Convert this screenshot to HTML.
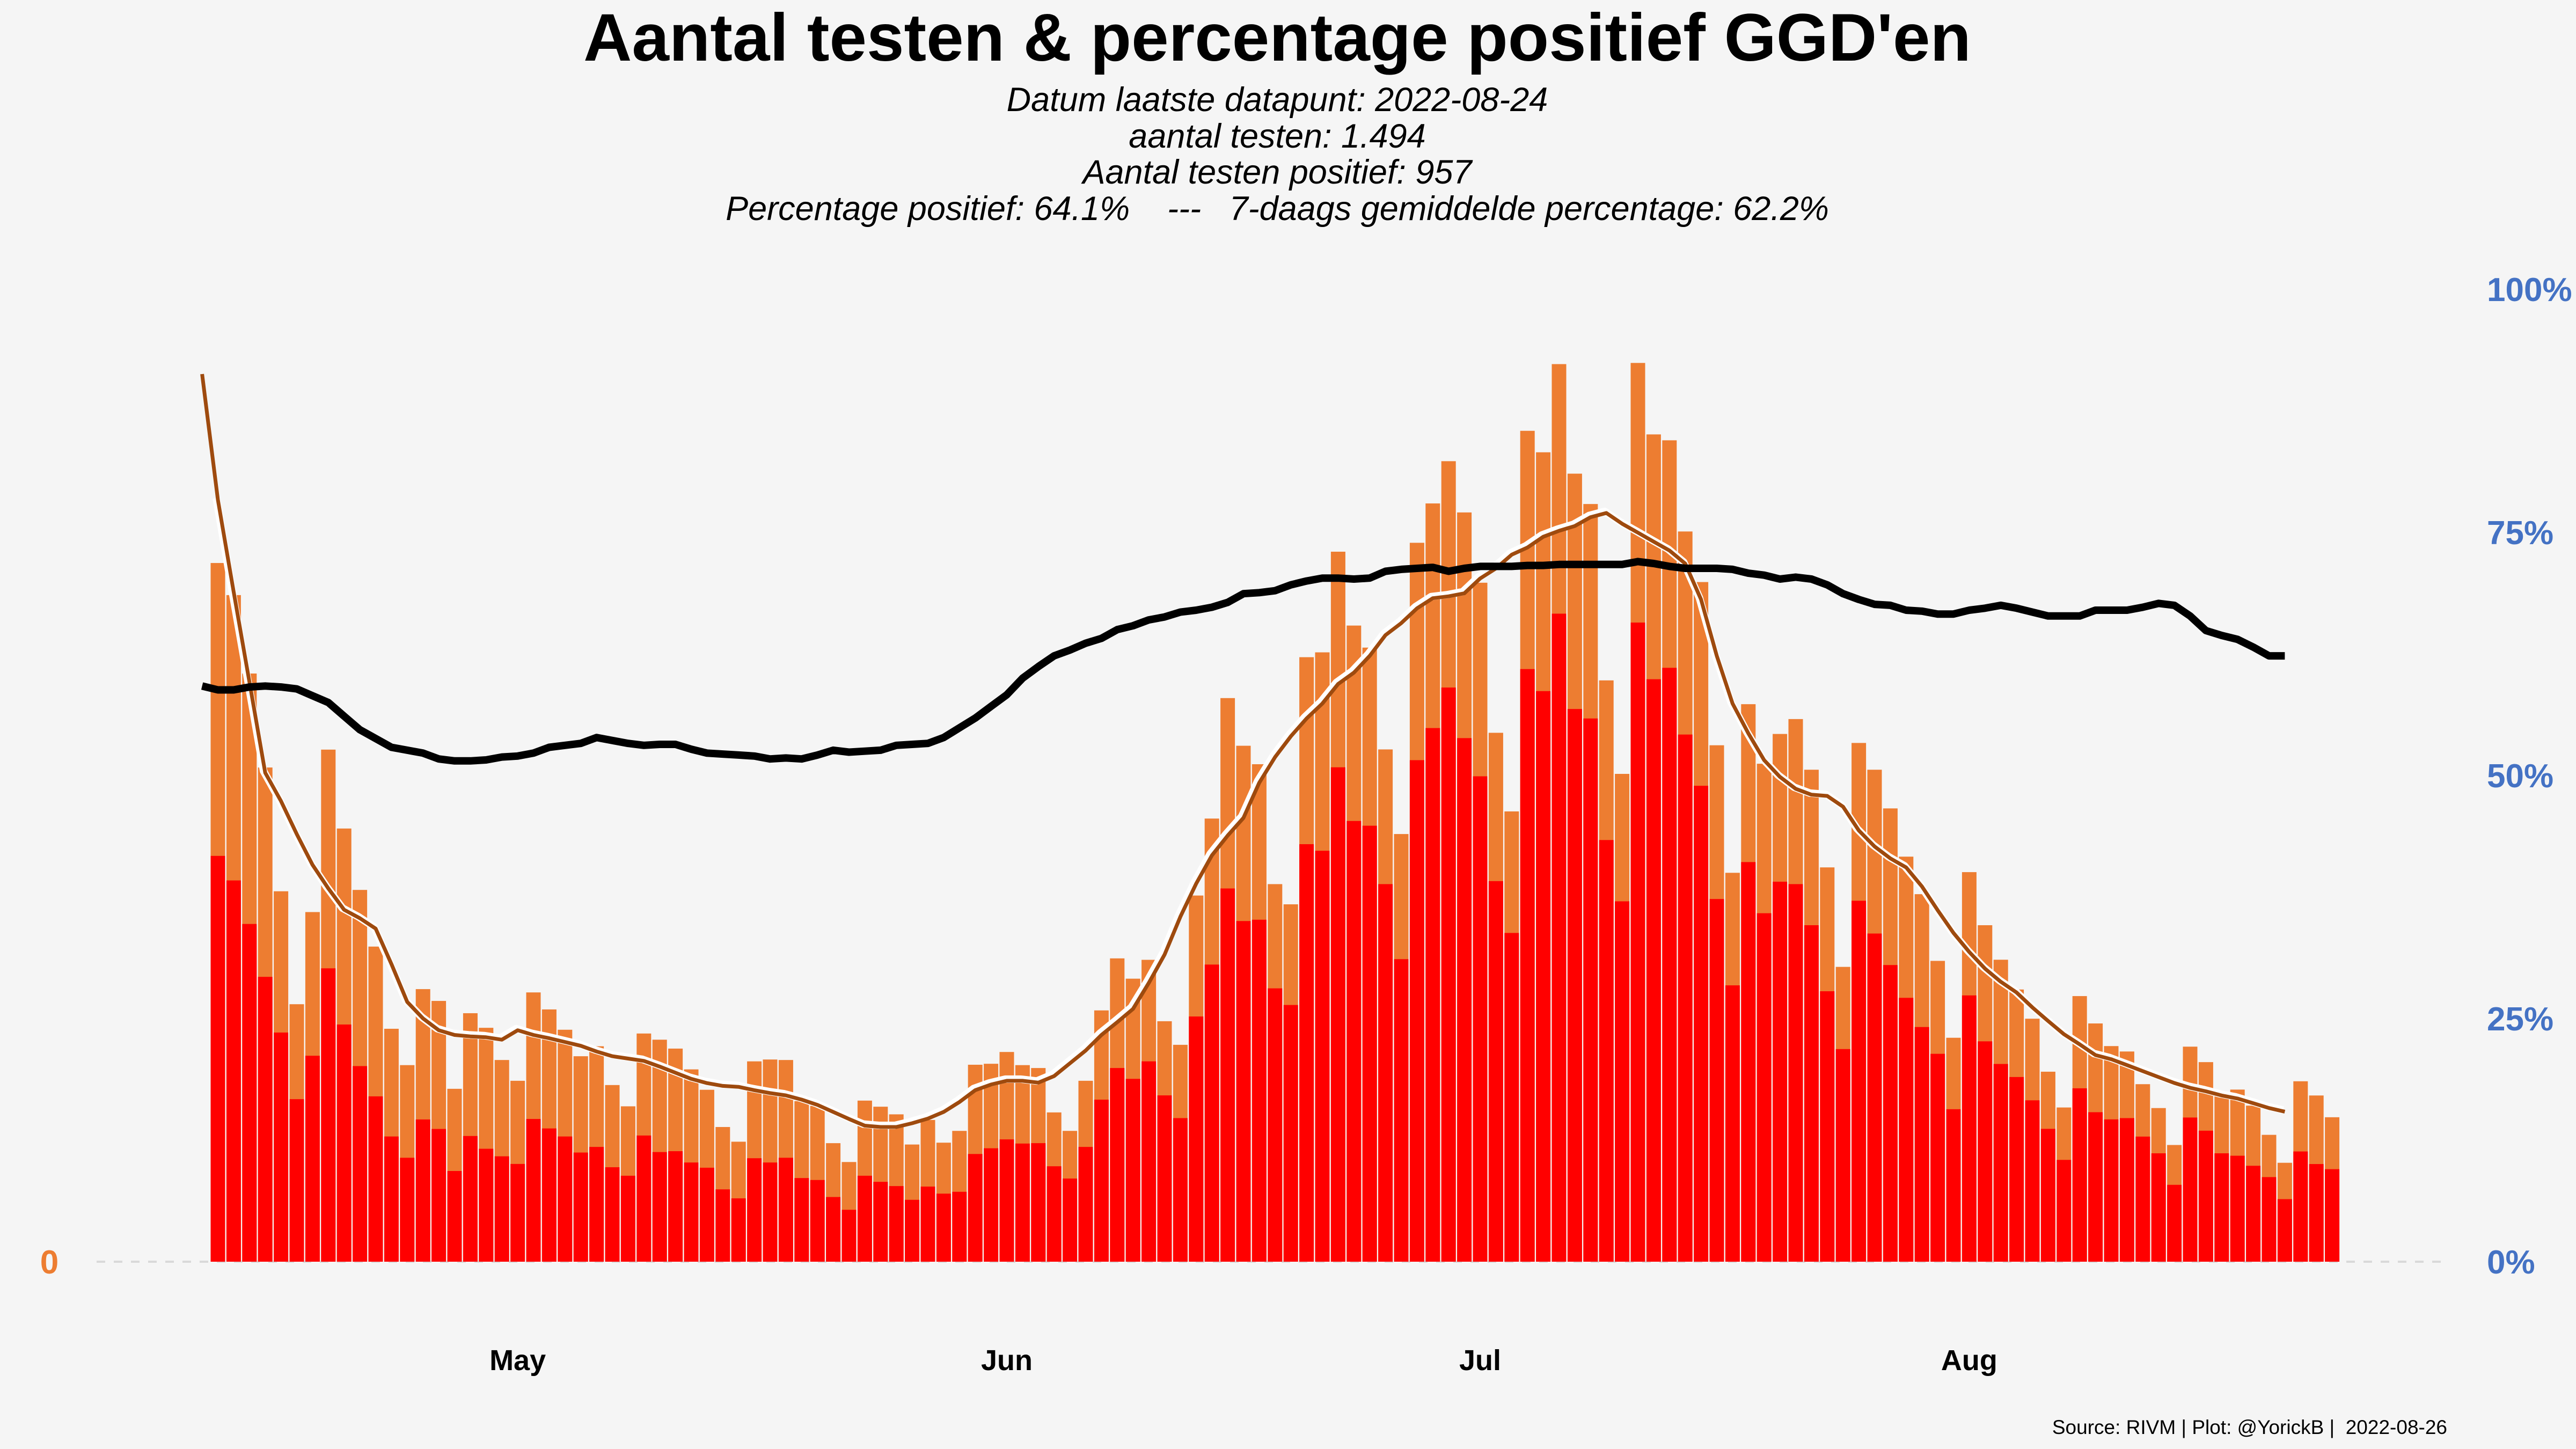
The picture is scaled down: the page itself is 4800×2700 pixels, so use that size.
<!DOCTYPE html>
<html><head><meta charset="utf-8">
<style>
html,body{margin:0;padding:0;background:#f5f5f5;}
svg{display:block;}
text{font-family:"Liberation Sans",Arial,sans-serif;}
</style></head>
<body>
<svg id="chart" width="4800" height="2700" viewBox="0 0 4800 2700" xmlns="http://www.w3.org/2000/svg">
<rect x="0" y="0" width="4800" height="2700" fill="#f5f5f5"/>
<text x="2380" y="113" text-anchor="middle" font-size="125" font-weight="bold" fill="#000">Aantal testen &amp; percentage positief GGD'en</text>
<g font-style="italic" font-size="63" text-anchor="middle" fill="#000">
<text x="2380" y="207">Datum laatste datapunt: 2022-08-24</text>
<text x="2380" y="275">aantal testen: 1.494</text>
<text x="2380" y="342">Aantal testen positief: 957</text>
<text x="2380" y="410" xml:space="preserve">Percentage positief: 64.1%    ---   7-daags gemiddelde percentage: 62.2%</text>
</g>
<line x1="180" y1="2351" x2="4560" y2="2351" stroke="#d9d9d9" stroke-width="4" stroke-dasharray="16,16"/>
<g id="bars"></g>
<g id="lines"></g>
<g id="axes"></g>
<text x="4560" y="2672" text-anchor="end" font-size="37" fill="#000" xml:space="preserve">Source: RIVM | Plot: @YorickB |  2022-08-26</text>
</svg>
<script>
// day index 0 = 2022-04-11; bars start at index 1 (2022-04-12)
const totalTests = [7226,6894,6083,5111,3831,2663,3616,5296,4480,3845,3259,2409,2033,2819,2697,1788,2570,2419,2086,1871,2785,2609,2399,2125,2228,1827,1607,2360,2296,2204,1989,1778,1393,
1241,2072,2091,2086,1661,1612,1226,1031,1666,1603,1524,1212,1466,1231,1353,2037,2047,2169,2033,2003,1544,1353,1871,2599,3137,2927,3122,2487,2243,3787,4583,5829,5336,5145,
3905,3696,6252,6302,7343,6579,6351,5298,4423,7435,7842,8279,7749,7022,5470,4657,8593,8371,9283,8150,7836,6012,5045,9295,8556,8495,7552,7029,5341,4022,5766,5150,5458,
5612,5088,4078,3049,5365,5088,4688,4189,3801,3111,2316,4029,3480,3123,2815,2513,1965,1595,2747,2464,2230,2174,1836,1589,1207,2224,2064,1756,1780,1614,1312,1023,1866,1719,1494];
const positiveTests = [4197,3943,3493,2946,2370,1681,2130,3034,2453,2023,1710,1295,1075,1471,1373,938,1300,1168,1090,1011,1476,1378,1295,1129,1187,977,889,1305,1134,1143,1026,972,748,
655,1070,1026,1075,865,845,669,537,889,826,782,640,777,704,723,1114,1173,1265,1222,1226,987,860,1187,1676,2003,1891,2072,1720,1485,2536,3073,3860,3523,3537,
2827,2655,4318,4250,5113,4558,4509,3905,3129,5187,5519,5938,5415,5020,3936,3400,6129,5901,6702,5716,5618,4361,3727,6610,6024,6142,5452,4922,3751,2858,4133,3604,3930,
3905,3480,2797,2199,3733,3394,3068,2729,2427,2150,1577,2754,2279,2045,1910,1669,1374,1053,1793,1546,1472,1485,1294,1121,795,1491,1355,1121,1096,992,875,647,1140,1010,957];
const avgTests = [9180,7880,6928,5995,5057,4764,4422,4104,3860,3640,3552,3445,3078,2687,2516,2394,2345,2330,2321,2296,2394,2345,2311,2272,2233,2174,2125,2101,2077,2018,1954,1891,1847,1818,
1808,1774,1744,1720,1676,1622,1549,1476,1407,1393,1393,1432,1480,1549,1652,1774,1832,1871,1871,1852,1920,2052,2184,2345,2477,2614,2883,3176,3567,3909,4202,4407,4590,
4953,5218,5433,5618,5772,5975,6092,6265,6480,6604,6757,6862,6881,6912,7066,7170,7312,7386,7497,7559,7608,7700,7743,7632,7540,7447,7355,7220,6850,6265,5772,5464,5187,5014,
4891,4830,4817,4706,4460,4294,4171,4078,3881,3635,3400,3203,3031,2895,2784,2630,2489,2353,2248,2137,2094,2033,1971,1909,1848,1798,1762,1719,1688,1639,1589,1552];
const avgPct = [59.2,58.8,58.8,59.1,59.2,59.1,58.9,58.2,57.5,56.1,54.7,53.8,52.9,52.6,52.3,51.7,51.5,51.5,51.6,51.9,52.0,52.3,52.9,53.1,53.3,53.9,53.6,53.3,53.1,53.2,53.2,52.7,52.3,52.2,
52.1,52.0,51.7,51.8,51.7,52.1,52.6,52.4,52.5,52.6,53.1,53.2,53.3,53.9,54.9,55.9,57.1,58.3,60.0,61.2,62.3,62.9,63.6,64.1,65.0,65.4,66.0,66.3,66.8,67.0,67.3,67.8,68.7,
68.8,69.0,69.6,70.0,70.3,70.3,70.2,70.3,71.0,71.2,71.3,71.4,71.0,71.3,71.5,71.5,71.5,71.6,71.6,71.7,71.7,71.7,71.7,71.7,72.0,71.8,71.5,71.3,71.3,71.3,71.2,70.8,70.6,70.2,
70.4,70.2,69.6,68.7,68.1,67.6,67.5,67.0,66.9,66.6,66.6,67.0,67.2,67.5,67.2,66.8,66.4,66.4,66.4,67.0,67.0,67.0,67.3,67.7,67.5,66.4,64.9,64.4,64.0,63.2,62.3,62.3];
const monthLabels = ["May","Jun","Jul","Aug"];
const monthDayIndex = [20,51,81,112];
const pctTicks = [0,25,50,75,100];
const countTicks = [0];

const NS = "http://www.w3.org/2000/svg";
const X0 = 376.6, DX = 29.4, Y0 = 2351, H = 1812, COUNT_MAX = 10057;
function xScale(d){ return X0 + d*DX; }
function yCount(v){ return Y0 - v/COUNT_MAX*H; }
function yPct(p){ return Y0 - p/100*H; }
function mk(tag, attrs, parent){
  const e = document.createElementNS(NS, tag);
  for (const k in attrs) e.setAttribute(k, attrs[k]);
  parent.appendChild(e);
  return e;
}
const bars = document.getElementById('bars');
const BW = 27;
totalTests.forEach((v,i)=>{
  const d = i+1, cx = xScale(d);
  const r1 = mk('rect',{x:cx-BW/2,y:yCount(v),width:BW,height:Y0-yCount(v),fill:'#ED7D31'},bars);
  
  
  const p = positiveTests[i];
  const r2 = mk('rect',{x:cx-BW/2,y:yCount(p),width:BW,height:Y0-yCount(p),fill:'#FF0000'},bars);
  
  
});
const lines = document.getElementById('lines');
const ptsT = avgTests.map((v,i)=>xScale(i).toFixed(1)+','+yCount(v).toFixed(1));
const outline = mk('polyline',{points:ptsT.slice(1).join(' '),fill:'none',stroke:'#ffffff','stroke-width':14,'stroke-linejoin':'round',transform:'translate(-3,-3)'},lines);


const lT = mk('polyline',{points:ptsT.join(' '),fill:'none',stroke:'#9E4A0E','stroke-width':7,'stroke-linejoin':'round'},lines);


const ptsP = avgPct.map((v,i)=>xScale(i).toFixed(1)+','+yPct(v).toFixed(1));
const lP = mk('polyline',{points:ptsP.join(' '),fill:'none',stroke:'#000','stroke-width':14,'stroke-linejoin':'round'},lines);



const axes = document.getElementById('axes');
pctTicks.forEach(t=>{
  const e = mk('text',{x:4634,y:yPct(t)+22,'font-size':62,'font-weight':'bold',fill:'#4472C4'},axes);
  e.textContent = t+'%';
  
  
});
countTicks.forEach(t=>{
  const e = mk('text',{x:92,y:yCount(t)+22,'font-size':62,'font-weight':'bold',fill:'#ED7D31','text-anchor':'middle'},axes);
  e.textContent = String(t);
  
  
});
monthLabels.forEach((m,i)=>{
  const e = mk('text',{x:xScale(monthDayIndex[i]),y:2553,'font-size':54,'font-weight':'bold',fill:'#000','text-anchor':'middle'},axes);
  e.textContent = m;
  
  
});
</script>
</body></html>
